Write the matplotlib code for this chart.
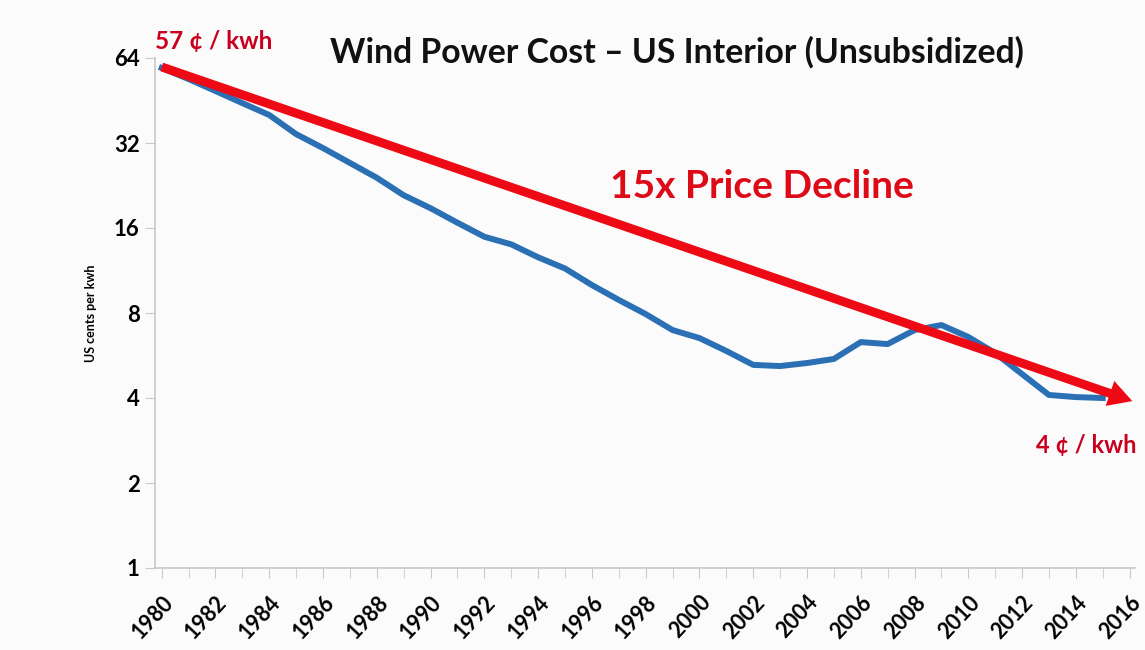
import matplotlib.pyplot as plt
from matplotlib.ticker import FixedLocator, NullFormatter

# datos (centavos USD por kwh)
anios = list(range(1980, 2016))
costo = [59.0, 53.9, 48.9, 44.3, 40.2, 34.4, 30.7, 27.2, 24.1, 20.9,
         18.8, 16.7, 14.9, 14.0, 12.6, 11.5, 10.05, 8.9, 7.93, 6.96,
         6.52, 5.87, 5.24, 5.19, 5.32, 5.50, 6.31, 6.21, 6.96, 7.25,
         6.58, 5.77, 4.86, 4.10, 4.03, 4.0]

tendencia_anios = [1980, 2016.1]
tendencia_valores = [59.5, 3.9]

ticks_y = [1, 2, 4, 8, 16, 32, 64]
ticks_x = list(range(1980, 2017, 2))

fondo = '#fbfbfb'
azul = '#2b70b4'
rojo = '#ee0a14'
rojo_texto = '#c8001e'

plt.rcParams['font.family'] = ['Lato', 'DejaVu Sans']

fig = plt.figure(figsize=(11.45, 6.5), dpi=100, facecolor=fondo)
ax = fig.add_axes([155 / 1145, 1 - 568 / 650, (1135 - 155) / 1145, (568 - 58) / 650])
ax.set_facecolor(fondo)

ax.plot(anios, costo, color=azul, lw=4.3, solid_joinstyle='round', zorder=3)

ax.annotate('', xy=(tendencia_anios[1], tendencia_valores[1]),
            xytext=(tendencia_anios[0], tendencia_valores[0]),
            arrowprops=dict(arrowstyle='simple,head_length=0.85,head_width=0.95,tail_width=0.32',
                            mutation_scale=20, fc=rojo, ec='none',
                            shrinkA=0, shrinkB=0),
            annotation_clip=False, zorder=4)

ax.set_yscale('log', base=2)
ax.set_ylim(1, 64)
ax.set_xlim(1979.75, 2016.2)
ax.yaxis.set_major_locator(FixedLocator(ticks_y))
ax.set_yticklabels([str(t) for t in ticks_y], fontsize=16, fontweight='bold')
ax.yaxis.set_minor_formatter(NullFormatter())
ax.yaxis.set_minor_locator(FixedLocator([]))

ax.set_xticks(ticks_x)
ax.set_xticks(list(range(1980, 2017)), minor=True)
ax.set_xticklabels([str(t) for t in ticks_x], rotation=47, ha='right',
                   rotation_mode='anchor', fontsize=15.5, fontweight='bold')

for lado in ['top', 'right']:
    ax.spines[lado].set_visible(False)
for lado in ['left', 'bottom']:
    ax.spines[lado].set_color('#c8c8c8')
    ax.spines[lado].set_linewidth(1.2)
ax.tick_params(axis='y', which='major', length=7, color='#c8c8c8', pad=4, direction='out')
ax.tick_params(axis='x', which='both', length=7, color='#c8c8c8', pad=10)

ax.set_ylabel('US cents per kwh', fontsize=9, fontweight='bold', labelpad=12)

fig.text(155 / 1145, 1 - 42 / 650, '57 ¢ / kwh', color=rojo_texto, fontsize=17.5,
         fontweight='bold', va='center', ha='left')
fig.text(330 / 1145, 1 - 52 / 650, 'Wind Power Cost – US Interior (Unsubsidized)',
         color='#111111', fontsize=24.3, fontweight='bold', va='center', ha='left')
fig.text(610 / 1145, 1 - 187 / 650, '15x Price Decline', color='#dd0a18',
         fontsize=28, fontweight='bold', va='center', ha='left')
fig.text(1036 / 1145, 1 - 445 / 650, '4 ¢ / kwh', color=rojo_texto, fontsize=17,
         fontweight='bold', va='center', ha='left')

fig.savefig('out.png', dpi=100, facecolor=fondo)
